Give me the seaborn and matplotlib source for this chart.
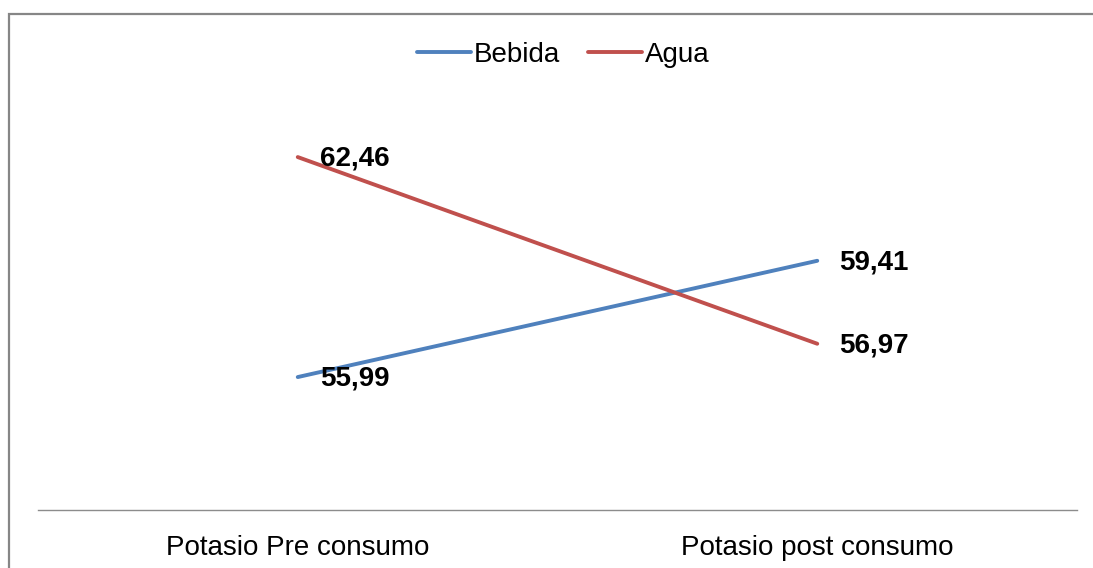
import matplotlib
matplotlib.use("Agg")
import matplotlib.pyplot as plt
from matplotlib.patches import Rectangle
import seaborn as sns
import pandas as pd

categories = ["Potasio Pre consumo", "Potasio post consumo"]
series_names = ["Bebida", "Agua"]
bebida = [55.99, 59.41]
agua = [62.46, 56.97]
colors = ["#4F81BD", "#C0504D"]

df = pd.DataFrame({
    "momento": categories * 2,
    "valor": bebida + agua,
    "grupo": [series_names[0]] * 2 + [series_names[1]] * 2,
})

sns.set_theme(style="white")
plt.rcParams["font.family"] = ["Liberation Sans", "DejaVu Sans"]

W, H = 1093, 568
fig = plt.figure(figsize=(W / 100, H / 100), dpi=100)
ax = fig.add_axes([38 / W, 1 - 510 / H, (1077 - 38) / W, (510 - 90) / H])

sns.lineplot(data=df, x="momento", y="valor", hue="grupo", palette=colors,
             linewidth=2.8, ax=ax, legend=False, sort=False)

ax.set_xlim(-0.5, 1.5)
# vertical scale: 34 px per unit, baseline at 52.08
ax.set_ylim(52.08, 52.08 + 420 / 34)

for vals in (bebida, agua):
    for i, v in enumerate(vals):
        ax.annotate(f"{v:.2f}".replace(".", ","), (i, v), xytext=(16, -1),
                    textcoords="offset points", ha="left", va="center",
                    fontsize=20, fontweight="bold", color="black")

for s in ("left", "top", "right"):
    ax.spines[s].set_visible(False)
ax.spines["bottom"].set_color("#8c8c8c")
ax.spines["bottom"].set_linewidth(1.0)
ax.set_yticks([])
ax.tick_params(axis="x", length=0, pad=18, labelsize=20, labelcolor="black")
ax.set_xlabel("")
ax.set_ylabel("")

handles = [plt.Line2D([], [], color=c, linewidth=2.8) for c in colors]
leg = fig.legend(handles, series_names, loc="center", bbox_to_anchor=(563 / W, 1 - 55 / H),
                 ncol=2, frameon=False, fontsize=20, handlelength=1.95, handletextpad=0.1,
                 columnspacing=1.0)
for t in leg.get_texts():
    t.set_color("black")

fig.patches.append(Rectangle((9 / W, -0.1), 1.2, 1.1 - 14 / H, transform=fig.transFigure,
                             fill=False, edgecolor="#868686", linewidth=1.6))

fig.savefig("out.png", dpi=100)
